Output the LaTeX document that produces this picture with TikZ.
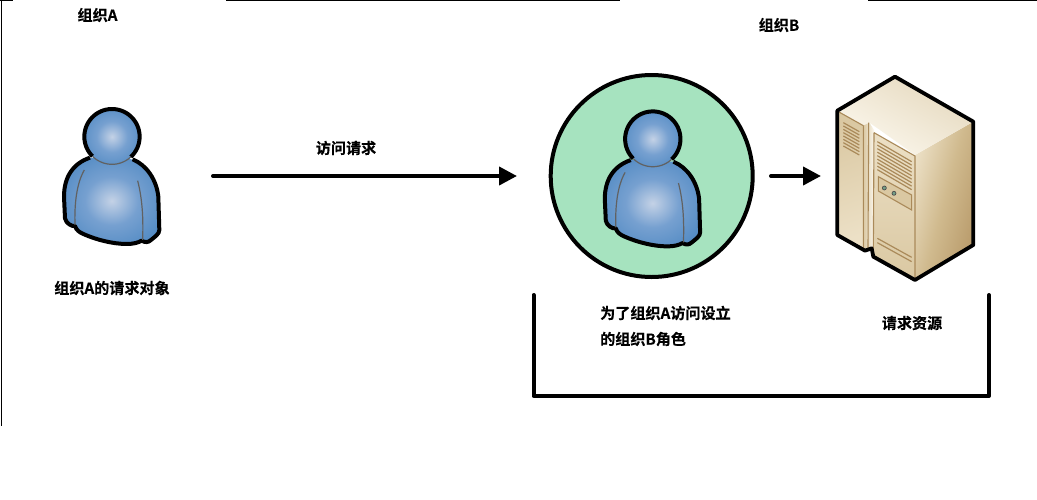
\documentclass[tikz,border=0pt]{standalone}
\usepackage{fontspec}
\newfontfamily\cjk{Noto Sans CJK SC}[BoldFont={Noto Sans CJK SC Bold},BoldFeatures={FakeBold=0.25}]
\definecolor{headlt}{RGB}{196,210,230}
\definecolor{headmid}{RGB}{118,160,208}
\definecolor{headmidb}{RGB}{78,136,194}
\definecolor{headdk}{RGB}{58,120,184}
\definecolor{rolegreen}{RGB}{166,227,191}
\definecolor{srvline}{RGB}{170,138,90}
\definecolor{srvlt}{RGB}{252,248,238}
\definecolor{srvmid}{RGB}{218,200,162}
\definecolor{srvdk}{RGB}{184,154,106}
\definecolor{srvface}{RGB}{236,224,198}
\definecolor{srvfacem}{RGB}{208,186,142}
\pgfdeclareradialshading{personshade}{\pgfpoint{0bp}{0bp}}{
  color(0bp)=(headlt); color(14bp)=(headmid); color(32bp)=(headmidb); color(50bp)=(headdk); color(100bp)=(headdk)}
\usetikzlibrary{arrows.meta}
\tikzset{
  label text/.style={font=\cjk\bfseries\fontsize{15.1}{18}\selectfont,inner sep=0pt,text=black},
  flow/.style={line width=4pt,draw=black,line cap=round,-{Triangle[length=18pt,width=18pt]}},
  bracket/.style={line width=4pt,draw=black,line cap=round,line join=round},
  frame edge/.style={line width=1.1pt,draw=black},
  outline/.style={line width=4pt,draw=black,line join=round},
  crease/.style={line width=1.2pt,draw=black!62},
  louver/.style={line width=1.2pt,draw=srvline}
}
\newcommand{\personfig}[2]{%
\begin{scope}[shift={(#1,#2)},x=0.3333pt,y=-0.3333pt]
  \path[shading=personshade]
   (150,203) .. controls (100,220) and (72,260) .. (72,320) -- (75,385)
   .. controls (78,400) and (95,410) .. (105,408)
   .. controls (108,420) and (120,428) .. (130,432)
   .. controls (170,450) and (220,462) .. (260,462)
   .. controls (280,462) and (295,458) .. (305,452)
   .. controls (315,458) and (325,458) .. (333,450)
   .. controls (345,440) and (358,432) .. (358,420)
   -- (355,320) .. controls (350,270) and (320,225) .. (278,208) -- cycle;
  \draw[outline]
   (150,203) .. controls (100,220) and (72,260) .. (72,320) -- (75,385)
   .. controls (78,400) and (95,410) .. (105,408)
   .. controls (108,420) and (120,428) .. (130,432)
   .. controls (170,450) and (220,462) .. (260,462)
   .. controls (280,462) and (295,458) .. (305,452)
   .. controls (315,458) and (325,458) .. (333,450)
   .. controls (345,440) and (358,432) .. (358,420)
   -- (355,320) .. controls (350,270) and (320,225) .. (278,208);
  \draw[crease] (133,240) .. controls (110,280) and (103,340) .. (105,405);
  \draw[crease] (293,272) .. controls (308,330) and (310,390) .. (308,450);
  \path[shading=personshade] plot[smooth,samples=60,domain=0:360] ({216+83*cos(\x)},{140+83*sin(\x)}) -- cycle;
  \draw[outline] plot[smooth,samples=50,domain=135:407] ({216+83*cos(\x)},{140+83*sin(\x)});
  \draw[crease] plot[smooth,samples=20,domain=47:135] ({216+83*cos(\x)},{140+83*sin(\x)});
\end{scope}}
\begin{document}
\begin{tikzpicture}[x=1pt,y=-1pt]
\useasboundingbox (0,0) rectangle (1037,499);
\fill[white] (0,0) rectangle (1037,499);
% frame fragments
\coordinate (f0) at (0,0.5); \coordinate (f1) at (13,0.5);
\coordinate (f2) at (226,0.5); \coordinate (f3) at (620,0.5);
\coordinate (f4) at (868,0.5); \coordinate (f5) at (1037,0.5);
\coordinate (f6) at (1.4,0); \coordinate (f7) at (1.4,426);
\draw[frame edge] (f0) -- (f1);
\draw[frame edge] (f2) -- (f3);
\draw[frame edge] (f4) -- (f5);
\draw[frame edge] (f6) -- (f7);
% role circle
\node[circle,draw=black,line width=4pt,fill=rolegreen,minimum size=202pt,inner sep=0pt] (role) at (651.7,176) {};
\personfig{40}{90}
\personfig{580.8}{92.4}
% server
\begin{scope}[shift={(820,60)},x=0.3333pt,y=-0.3333pt]
  \path[left color=srvface,right color=srvdk,middle color=srvfacem,shading angle=75]
    (285,285) -- (460,185) -- (460,555) -- (285,660) -- cycle;
  \path[top color=srvmid!70!white,bottom color=srvlt,shading angle=-30]
    (52,152) -- (225,50) -- (460,185) -- (285,285) -- (180,210) -- (148,188) -- (130,197) -- cycle;
  \path[left color=srvmid,right color=srvface,shading angle=20]
    (52,152) -- (130,197) -- (130,572) -- (52,525) -- cycle;
  \path[left color=srvmid,right color=srvlt]
    (130,197) -- (148,188) -- (162,210) -- (162,590) -- (155,565) -- (130,572) -- cycle;
  \path[top color=srvface,bottom color=srvmid]
    (162,218) -- (285,288) -- (285,658) -- (160,588) -- cycle;
  \draw[line width=1.1pt,draw=srvline] (130,197) -- (130,565) (162,218) -- (160,585) (162,218) -- (285,288) -- (285,655) (55,155) -- (130,197) (146,188) -- (144,565);
  \foreach \k in {0,...,7} {
    \draw[louver] (70,{188+10*\k}) -- (118,{215+10*\k});
  }
  \foreach \k in {0,...,8} {
    \draw[louver] (172,{245+10.5*\k}) -- (275,{305+10.5*\k});
  }
  \fill[srvmid] (175,350) -- (275,405) -- (275,450) -- (175,393) -- cycle;
  \draw[line width=1.1pt,draw=srvline] (175,350) -- (275,405) -- (275,450) -- (175,393) -- cycle;
  \fill[rolegreen!70!black,draw=black!70,line width=0.7pt] (193,384) circle[radius=6];
  \fill[rolegreen!70!black,draw=black!70,line width=0.7pt] (222,400) circle[radius=6];
  \draw[louver] (172,535) -- (275,592) (172,548) -- (275,605);
  \draw[outline,line width=3.8pt]
    (52,152) -- (225,50) -- (460,185) -- (460,555) -- (285,660) -- (160,590) -- (155,565) -- (135,572) -- (52,525) -- cycle;
\end{scope}
% arrows
\coordinate (a1) at (213,176); \coordinate (a2) at (517,176);
\coordinate (b1) at (771,176); \coordinate (b2) at (821,176);
\draw[flow] (a1) -- (a2);
\draw[flow] (b1) -- (b2);
% bracket
\coordinate (k1) at (533.5,295); \coordinate (k2) at (533.5,396);
\coordinate (k3) at (989,396); \coordinate (k4) at (989,295);
\draw[bracket] (k1) -- (k2) -- (k3) -- (k4);
% labels
\node[label text] (orgA) at (97.5,15) {组织A};
\node[label text] (orgB) at (779,25) {组织B};
\node[label text] (req) at (346,148) {访问请求};
\node[label text] (subj) at (112,288) {组织A的请求对象};
\node[label text,anchor=west] (rolea) at (600,313) {为了组织A访问设立};
\node[label text,anchor=west] (roleb) at (600,339) {的组织B角色};
\node[label text] (res) at (912,323) {请求资源};
\end{tikzpicture}
\end{document}
